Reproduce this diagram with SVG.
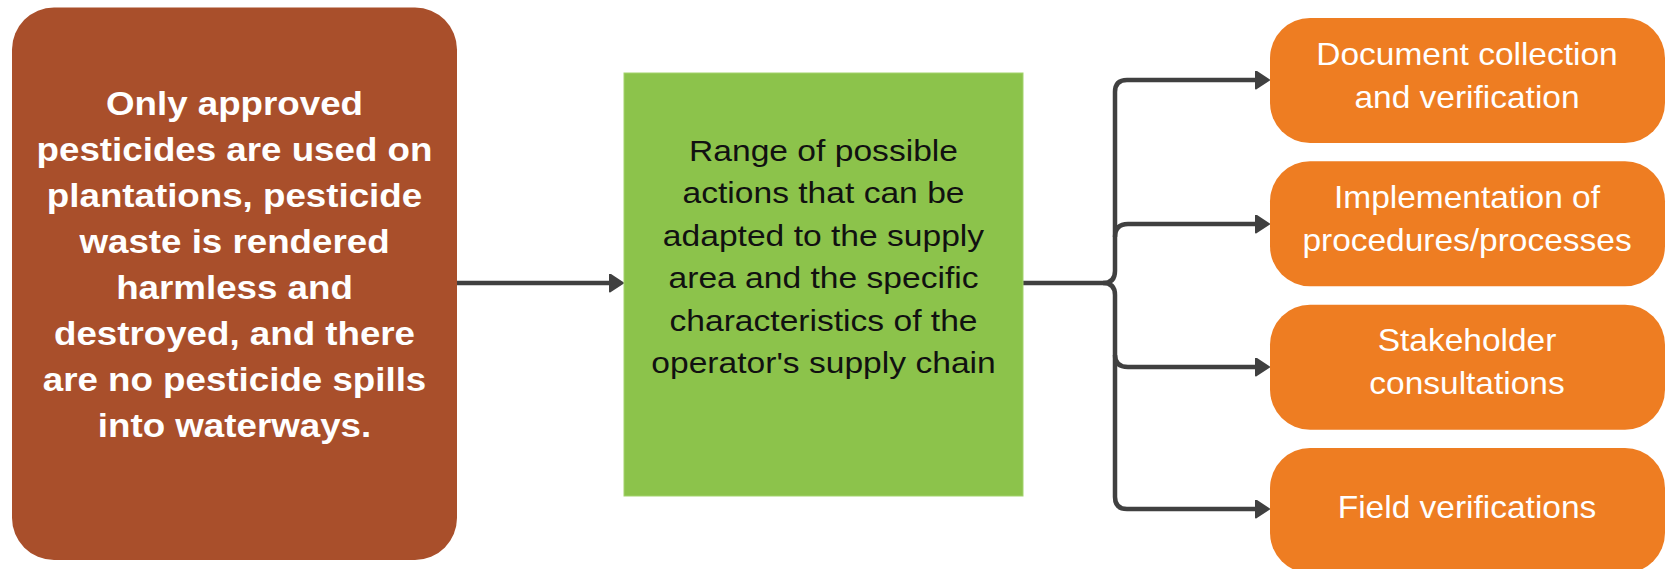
<svg xmlns="http://www.w3.org/2000/svg" width="1667" height="569" viewBox="0 0 1667 569">
<style>
.conn{fill:none;stroke:#404040;stroke-width:4.5;stroke-linejoin:round}
.lt{font-family:"Liberation Sans",Arial,sans-serif;font-weight:bold;font-size:34px;fill:#ffffff;text-anchor:middle}
.gt{font-family:"Liberation Sans",Arial,sans-serif;font-size:30px;fill:#111111;text-anchor:middle}
.ot{font-family:"Liberation Sans",Arial,sans-serif;font-size:31px;fill:#ffffff;text-anchor:middle}
.obox{fill:#EE7D22}
</style>
<defs>
<marker id="ah" markerUnits="userSpaceOnUse" viewBox="0 0 15 19" refX="0" refY="9.5" markerWidth="15" markerHeight="19" orient="auto">
<path d="M1,1 L14,9.5 L1,18 z" fill="#404040" stroke="#404040" stroke-width="2" stroke-linejoin="round"/>
</marker>
</defs>
<rect width="1667" height="569" fill="#ffffff"/>
<g id="connectors">
<path class="conn" d="M457,283 H609" marker-end="url(#ah)"/>
<path class="conn" d="M1023,283 H1103 Q1115,283 1115,271 V92 Q1115,80 1127,80 H1255" marker-end="url(#ah)"/>
<path class="conn" d="M1115,237 Q1115,224 1128,224 H1255" marker-end="url(#ah)"/>
<path class="conn" d="M1115,355 Q1115,367 1128,367 H1255" marker-end="url(#ah)"/>
<path class="conn" d="M1103,283 Q1115,283 1115,295 V497 Q1115,509 1127,509 H1255" marker-end="url(#ah)"/>
</g>
<g id="node-goal">
<rect x="12" y="7.5" width="445" height="552.5" rx="42" ry="42" fill="#A94F2B"/>
<g transform="translate(234.5,0) scale(1.08,1)">
<text class="lt" x="0" y="115">Only approved</text>
<text class="lt" x="0" y="161">pesticides are used on</text>
<text class="lt" x="0" y="207">plantations, pesticide</text>
<text class="lt" x="0" y="253">waste is rendered</text>
<text class="lt" x="0" y="299">harmless and</text>
<text class="lt" x="0" y="345">destroyed, and there</text>
<text class="lt" x="0" y="391">are no pesticide spills</text>
<text class="lt" x="0" y="437">into waterways.</text>
</g>
</g>
<g id="node-actions">
<rect x="624" y="73" width="399" height="423" fill="#8CC34B" stroke="#A3D36C" stroke-width="1"/>
<g transform="translate(823.5,0) scale(1.12,1)">
<text class="gt" x="0" y="161">Range of possible</text>
<text class="gt" x="0" y="203.4">actions that can be</text>
<text class="gt" x="0" y="245.8">adapted to the supply</text>
<text class="gt" x="0" y="288.2">area and the specific</text>
<text class="gt" x="0" y="330.6">characteristics of the</text>
<text class="gt" x="0" y="373">operator's supply chain</text>
</g>
</g>
<g id="node-documents">
<rect class="obox" x="1270" y="18" width="395" height="125" rx="40" ry="40"/>
<g transform="translate(1467,0) scale(1.08,1)">
<text class="ot" x="0" y="65">Document collection</text>
<text class="ot" x="0" y="108">and verification</text>
</g>
</g>
<g id="node-procedures">
<rect class="obox" x="1270" y="161.3" width="395" height="125" rx="40" ry="40"/>
<g transform="translate(1467,0) scale(1.08,1)">
<text class="ot" x="0" y="208">Implementation of</text>
<text class="ot" x="0" y="251">procedures/processes</text>
</g>
</g>
<g id="node-stakeholders">
<rect class="obox" x="1270" y="304.7" width="395" height="125" rx="40" ry="40"/>
<g transform="translate(1467,0) scale(1.08,1)">
<text class="ot" x="0" y="351.5">Stakeholder</text>
<text class="ot" x="0" y="394.5">consultations</text>
</g>
</g>
<g id="node-field">
<rect class="obox" x="1270" y="448" width="395" height="125" rx="40" ry="40"/>
<g transform="translate(1467,0) scale(1.08,1)">
<text class="ot" x="0" y="518">Field verifications</text>
</g>
</g>
</svg>
